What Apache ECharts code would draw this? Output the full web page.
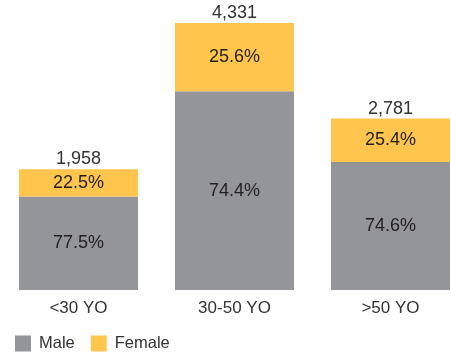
<!DOCTYPE html>
<html>
<head>
<meta charset="utf-8">
<style>
  html, body { margin: 0; padding: 0; background: #fff; }
  #chart { width: 451px; height: 354px; }
</style>
<script src="https://cdn.jsdelivr.net/npm/echarts@6/dist/echarts.min.js"></script>
</head>
<body>
<div id="chart"></div>
<script>
// Headcount by age group, split by gender
const categories = ['<30 YO', '30-50 YO', '>50 YO'];
const totals = [1958, 4331, 2781];
const malePct = [77.5, 74.4, 74.6];
const femalePct = [22.5, 25.6, 25.4];

const FONT = '"Liberation Sans", Helvetica, Arial, sans-serif';
const GRAY = '#939598';
const YELLOW = '#FFC54C';

// Segment sizes follow from each total and its share
const maleVals = totals.map((t, i) => t * malePct[i] / 100);
const femaleVals = totals.map((t, i) => t * femalePct[i] / 100);

const fmtPct = v => v.toFixed(1) + '%';
const fmtInt = v => v.toLocaleString('en-US');

const chart = echarts.init(document.getElementById('chart'), null, { renderer: 'canvas' });
chart.setOption({
  animation: false,
  textStyle: { fontFamily: FONT },
  grid: { left: 0.5, width: 468, top: 23, bottom: 64, outerBoundsMode: 'none', containLabel: false },
  legend: {
    data: ['Male', 'Female'],
    left: 15,
    top: 335,
    padding: 0,
    itemWidth: 16,
    itemHeight: 16,
    itemGap: 16,
    icon: 'rect',
    textStyle: { fontFamily: FONT, fontSize: 16.5, color: '#333', padding: [0, 0, 0, 3] }
  },
  xAxis: {
    type: 'category',
    data: categories,
    axisLine: { show: false },
    axisTick: { show: false },
    axisLabel: { fontFamily: FONT, fontSize: 17, color: '#333', margin: 10 }
  },
  yAxis: {
    type: 'value',
    min: 0,
    max: Math.max(...totals),
    show: false,
    splitLine: { show: false }
  },
  series: [
    {
      name: 'Male',
      type: 'bar',
      stack: 'g',
      barWidth: 119,
      data: maleVals,
      itemStyle: { color: GRAY },
      label: {
        show: true,
        position: 'inside',
        fontFamily: FONT,
        fontSize: 18,
        color: '#231F20',
        formatter: p => fmtPct(malePct[p.dataIndex])
      }
    },
    {
      name: 'Female',
      type: 'bar',
      stack: 'g',
      barWidth: 119,
      data: femaleVals,
      itemStyle: { color: YELLOW },
      label: {
        show: true,
        position: 'inside',
        fontFamily: FONT,
        fontSize: 18,
        color: '#231F20',
        formatter: p => fmtPct(femalePct[p.dataIndex])
      }
    },
    {
      // invisible overlay carrying the total above each column
      name: 'Total',
      type: 'bar',
      barWidth: 119,
      barGap: '-100%',
      z: 1,
      data: totals,
      itemStyle: { color: 'rgba(0,0,0,0)' },
      silent: true,
      label: {
        show: true,
        position: 'top',
        distance: 1,
        fontFamily: FONT,
        fontSize: 18,
        color: '#333',
        formatter: p => fmtInt(totals[p.dataIndex])
      }
    }
  ]
});
</script>
</body>
</html>
